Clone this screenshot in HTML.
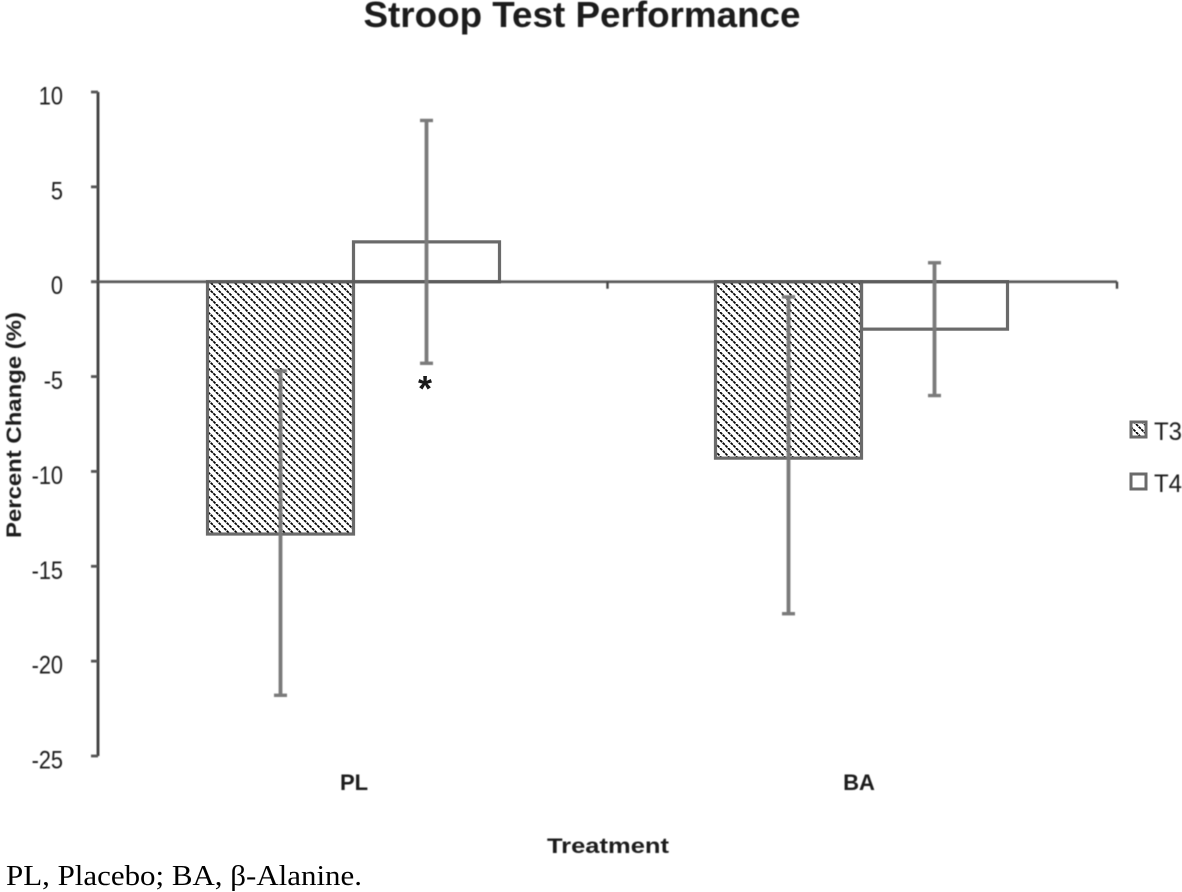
<!DOCTYPE html>
<html lang="en">
<head>
<meta charset="utf-8">
<title>Stroop Test Performance</title>
<style>
html,body{margin:0;padding:0;background:#fff;}
#wrap{position:relative;width:1182px;height:892px;overflow:hidden;background:#fff;}
svg{position:absolute;left:0;top:0;display:block;}
text{font-family:"Liberation Sans",sans-serif;fill:#1a1a1a;}
</style>
</head>
<body>
<div id="wrap">
<svg id="chart" width="1182" height="892" viewBox="0 0 1182 892">
  <defs>
    <filter id="soft" x="-5%" y="-5%" width="110%" height="110%"><feGaussianBlur stdDeviation="0.5"/></filter>
    <pattern id="hatch" width="8" height="8" patternUnits="userSpaceOnUse">
      <rect width="8" height="8" fill="#fff"/>
      <path d="M0,0 L8,8 M-8,0 L0,8 M8,0 L16,8" stroke="#000" stroke-width="1.7" stroke-dasharray="3 0.77"/>
    </pattern>
  </defs>
  <g id="bars"></g>
  <g id="plot" filter="url(#soft)"></g>
  <text x="582" y="27" text-anchor="middle" font-size="36" font-weight="bold" textLength="437" lengthAdjust="spacingAndGlyphs" filter="url(#soft)">Stroop Test Performance</text>
  <text transform="translate(21,425) rotate(-90)" text-anchor="middle" font-size="21" font-weight="bold" textLength="226" lengthAdjust="spacingAndGlyphs" filter="url(#soft)">Percent Change (%)</text>
  <text x="608" y="853" text-anchor="middle" font-size="21" font-weight="bold" textLength="122" lengthAdjust="spacingAndGlyphs" filter="url(#soft)">Treatment</text>
  <text x="425" y="401" text-anchor="middle" font-size="36" font-weight="bold" fill="#000">*</text>
  <text x="6" y="885" font-size="28" textLength="356" lengthAdjust="spacingAndGlyphs" style="font-family:'Liberation Serif',serif;fill:#000">PL, Placebo; BA, β-Alanine.</text>
</svg>
</div>
<script>
const categories = ['PL', 'BA'];
const seriesNames = ['T3', 'T4'];
const t3Values = [-13.3, -9.3];
const t4Values = [2.1, -2.5];
const t3ErrorHigh = [-4.7, -0.8];
const t3ErrorLow = [-21.8, -17.5];
const t4ErrorHigh = [8.5, 1.0];
const t4ErrorLow = [-4.3, -6.0];
const yTicks = [10, 5, 0, -5, -10, -15, -20, -25];

const NS = 'http://www.w3.org/2000/svg';
const plot = document.getElementById('plot');
const barsGroup = document.getElementById('bars');
const plotLeft = 98, plotRight = 1117, plotTop = 92, plotBottom = 756;
const yMax = 10, yMin = -25;
const barWidth = 146;
const groupSpacing = 508, labelSpacing = 505;
const plotMid = (plotLeft + plotRight) / 2;

function yScale(v) {
  return plotTop + (yMax - v) / (yMax - yMin) * (plotBottom - plotTop);
}
function catCenter(i) {
  return plotMid + (i - (categories.length - 1) / 2) * groupSpacing;
}
function labelCenter(i) {
  return plotMid - 1 + (i - (categories.length - 1) / 2) * labelSpacing;
}
function seriesLeft(i, s) {
  return catCenter(i) - barWidth + s * barWidth;
}
function make(tag, attrs, parent) {
  const el = document.createElementNS(NS, tag);
  for (const k in attrs) el.setAttribute(k, attrs[k]);
  (parent || plot).appendChild(el);
  return el;
}
function line(x1, y1, x2, y2, color, w) {
  return make('line', {x1: x1, y1: y1, x2: x2, y2: y2, stroke: color, 'stroke-width': w});
}

// bars
function drawBar(i, s, value) {
  const x = seriesLeft(i, s);
  const y0 = yScale(0), y1 = yScale(value);
  const bar = make('rect', {
    x: x, y: Math.min(y0, y1), width: barWidth, height: Math.abs(y1 - y0),
    fill: s === 0 ? 'url(#hatch)' : 'none', stroke: '#6a6a6a', 'stroke-width': 3.2
  }, barsGroup);
  
  
}
categories.forEach(function (c, i) {
  drawBar(i, 0, t3Values[i]);
  drawBar(i, 1, t4Values[i]);
});

// y axis
const yAxis = line(plotLeft, plotTop, plotLeft, plotBottom, '#3c3c3c', 2.8);


yTicks.forEach(function (t) {
  const y = yScale(t);
  const tick = line(plotLeft - 7, y, plotLeft, y, '#555', 2.8);
  
  
  const label = make('text', {x: 63, y: y + 12.5, 'text-anchor': 'end', 'font-size': 25});
  label.textContent = String(t);
  
  
  label.setAttribute('textLength', (label.getComputedTextLength() * 0.87).toFixed(1));
  label.setAttribute('lengthAdjust', 'spacingAndGlyphs');
});

// x axis (zero line)
const xAxis = line(plotLeft - 7, yScale(0), plotRight, yScale(0), '#5c5c5c', 2.8);


[0, 1, 2].forEach(function (n) {
  const x = plotLeft + n * (plotRight - plotLeft) / categories.length;
  const tick = line(x, yScale(0), x, yScale(0) + 7, '#444', 2.4);
  
  
});

// error bars
function drawError(i, s, high, low) {
  const x = seriesLeft(i, s) + barWidth / 2;
  const a = line(x, yScale(high), x, yScale(low), '#7a7a7a', 3.8);
  
  
  [high, low].forEach(function (v) {
    const cap = line(x - 6.5, yScale(v), x + 6.5, yScale(v), '#7a7a7a', 3.4);
    
    
  });
}
categories.forEach(function (c, i) {
  drawError(i, 0, t3ErrorHigh[i], t3ErrorLow[i]);
  drawError(i, 1, t4ErrorHigh[i], t4ErrorLow[i]);
});

// category labels
categories.forEach(function (c, i) {
  const label = make('text', {x: labelCenter(i), y: 790, 'text-anchor': 'middle', 'font-size': 22, 'font-weight': 'bold'});
  label.textContent = c;
  
  
});

// legend
seriesNames.forEach(function (name, s) {
  const y = 422 + s * 52;
  const swatch = make('rect', {
    x: 1131, y: y, width: 15, height: 15,
    fill: s === 0 ? 'url(#hatch)' : '#fff', stroke: '#6a6a6a', 'stroke-width': 3
  }, barsGroup);
  
  
  const label = make('text', {x: 1154, y: y + 18, 'font-size': 25, textLength: 28, lengthAdjust: 'spacingAndGlyphs'});
  label.textContent = name;
  
  
});
</script>
</body>
</html>
